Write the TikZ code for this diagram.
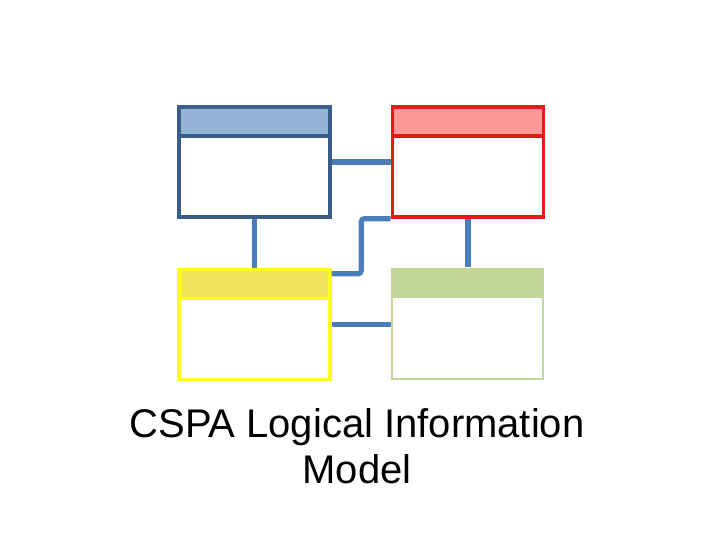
\documentclass[tikz,border=0pt]{standalone}
\usepackage{fontspec}
\setmainfont{Liberation Sans}
\usepackage{tikz}
\usetikzlibrary{positioning,calc}
\definecolor{linkblue}{HTML}{4A7EBB}
\definecolor{bluedark}{HTML}{3B5D89}
\definecolor{bluelight}{HTML}{95B3D7}
\definecolor{redline}{HTML}{E31B17}
\definecolor{redlight}{HTML}{FF9999}
\definecolor{yelline}{HTML}{FFFF1A}
\definecolor{yellight}{HTML}{F0E45A}
\definecolor{greenline}{HTML}{C4D79B}
\tikzset{
  ebox/.style={rectangle,draw=#1,line width=1.75pt,fill=white,minimum width=75.5pt,minimum height=55pt,inner sep=0pt},
  ehead/.style n args={2}{rectangle,draw=#1,fill=#2,line width=1.75pt,minimum width=75.5pt,minimum height=14.5pt,inner sep=0pt,anchor=north},
  gbox/.style={rectangle,draw=greenline,line width=1pt,fill=white,minimum width=75.5pt,minimum height=55pt,inner sep=0pt},
  ghead/.style={rectangle,fill=greenline,minimum width=76.5pt,minimum height=15pt,inner sep=0pt,anchor=north},
  link/.style={draw=linkblue,line width=2.6pt,rounded corners=1.5pt}
}
\begin{document}
\begin{tikzpicture}[x=0.5pt,y=-0.5pt]
\useasboundingbox (0,0) rectangle (720,540);
\node[ebox=bluedark] (blue) at (254.5,162) {};
\node[ehead={bluedark}{bluelight}] (bluehd) at (blue.north) {};
\node[ebox=redline] (red) at (468,162) {};
\node[ehead={redline}{redlight}] (redhd) at (red.north) {};
\node[ebox=yelline] (yellow) at (254.5,324.5) {};
\node[ehead={yelline}{yellight}] (yellowhd) at (yellow.north) {};
\node[gbox] (green) at (468,324.5) {};
\node[ghead] (greenhd) at ($(green.north)+(0,-1)$) {};
\draw[link] (blue.east) -- (red.west);
\draw[link] (yellow.east) -- (green.west);
\draw[link] (blue.south) -- (yellowhd.north);
\draw[link] (red.south) -- (greenhd.north);
\coordinate (elbow) at ($(yellow.north east)+(0,6)$);
\draw[link] (elbow) -| ($(elbow)!0.5!(red.south west)$) |- (red.south west);
\node[font=\fontsize{20pt}{23pt}\selectfont,align=center] (title) at (357,446) {CSPA Logical Information\\Model};
\end{tikzpicture}
\end{document}
